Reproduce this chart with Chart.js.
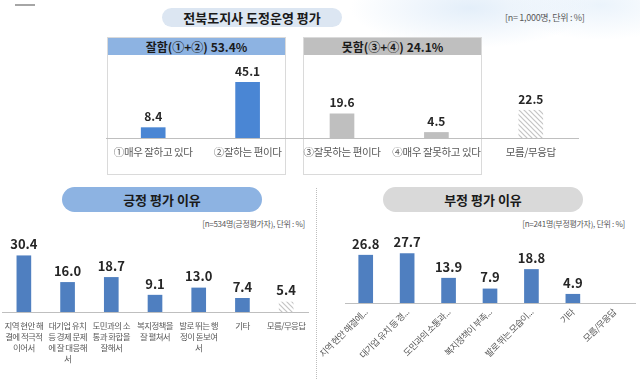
<!DOCTYPE html>
<html><head><meta charset="utf-8">
<script src="https://cdn.jsdelivr.net/npm/chart.js@4.4.1/dist/chart.umd.min.js"></script>
<style>
html,body{margin:0;padding:0;}
body{width:640px;height:379px;position:relative;overflow:hidden;background:#fff;font-family:"Noto Sans CJK KR","Noto Sans",sans-serif;
background-image:radial-gradient(ellipse 120px 40px at 470px 8px,rgba(205,225,245,0.55),rgba(255,255,255,0) 100%),radial-gradient(ellipse 90px 35px at 600px 5px,rgba(215,232,248,0.5),rgba(255,255,255,0) 100%);}
.abs{position:absolute;}
.pill{display:flex;align-items:center;justify-content:center;font-weight:bold;color:#1a1a1a;}
.note{font-size:8px;color:#595959;white-space:nowrap;letter-spacing:-0.3px;}
canvas{position:absolute;}
</style></head><body>
<div class="abs" style="left:15px;top:4px;width:20px;height:2px;background:#a6a6a6"></div>
<div class="abs pill" style="left:162px;top:8px;width:180px;height:19px;border-radius:10px;background:#dce6f2;font-size:13px;">전북도지사 도정운영 평가</div>
<div class="abs note" style="left:505px;top:11px;font-size:9px;">[n= 1,000명, 단위 : %]</div>

<div class="abs" style="left:107px;top:37px;width:177px;height:136px;border:1px solid #dadada;"></div>
<div class="abs pill" style="left:108px;top:38px;width:177px;height:17px;background:#8db3e2;font-size:12px;">잘함(①+②) 53.4%</div>
<div class="abs" style="left:303px;top:37px;width:177px;height:136px;border:1px solid #dadada;"></div>
<div class="abs pill" style="left:304px;top:38px;width:177px;height:17px;background:#bfbfbf;font-size:12px;">못함(③+④) 24.1%</div>

<div class="abs pill" style="left:62px;top:187px;width:200px;height:25px;border-radius:13px;background:#8db3e2;font-size:13px;">긍정 평가 이유</div>
<div class="abs note" style="right:335px;top:218px;">[n=534명(긍정평가자), 단위 : %]</div>
<div class="abs pill" style="left:383px;top:187px;width:200px;height:25px;border-radius:13px;background:#d9d9d9;font-size:13px;">부정 평가 이유</div>
<div class="abs note" style="right:15px;top:218px;">[n=241명(부정평가자), 단위 : %]</div>
<div class="abs" style="left:316px;top:188px;height:191px;border-left:1px dotted #bdbdbd;"></div>

<canvas id="c1" width="490" height="120" style="left:100px;top:56px"></canvas>
<canvas id="c2" width="316" height="154" style="left:0px;top:225px"></canvas>
<canvas id="c3" width="320" height="154" style="left:320px;top:225px"></canvas>
<script>
// ---- data ----
const topCategories = ['①매우 잘하고 있다','②잘하는 편이다','③잘못하는 편이다','④매우 잘못하고 있다','모름/무응답'];
const topValues = [8.4, 45.1, 19.6, 4.5, 22.5];

const posCategories = [
  ['지역 현안 해','결에 적극적','이어서'],
  ['대기업 유치','등 경제 문제','에 잘 대응해','서'],
  ['도민과의 소','통과 화합을','잘해서'],
  ['복지정책을','잘 펼쳐서'],
  ['발로 뛰는 행','정이 돋보여','서'],
  ['기타'],
  ['모름/무응답']
];
const posValues = [30.4, 16.0, 18.7, 9.1, 13.0, 7.4, 5.4];

const negCategories = ['지역 현안 해결에...','대기업 유치 등 경...','도민과의 소통과...','복지정책이 부족...','발로 뛰는 모습이...','기타','모름/무응답'];
const negValues = [26.8, 27.7, 13.9, 7.9, 18.8, 4.9, null];

// ---- styles ----
function hatch(){
  const c=document.createElement('canvas'); c.width=5; c.height=5;
  const g=c.getContext('2d');
  g.fillStyle='#ffffff'; g.fillRect(0,0,5,5);
  g.strokeStyle='#c4c4c4'; g.lineWidth=1.2;
  g.beginPath(); g.moveTo(0,0); g.lineTo(5,5); g.moveTo(-1,4); g.lineTo(1,6); g.moveTo(4,-1); g.lineTo(6,1); g.stroke();
  return g.createPattern(c,'repeat');
}
const HATCH = hatch();
const BLUE_TOP = '#4a86d4', BLUE = '#4f7fc0', GRAY = '#bfbfbf';

const valueLabels = {
  id:'valueLabels',
  afterDatasetsDraw(chart, args, opts){
    const ctx=chart.ctx, meta=chart.getDatasetMeta(0), data=chart.data.datasets[0].data;
    ctx.save(); ctx.letterSpacing='0px'; ctx.font=opts.font; ctx.fillStyle=opts.color; ctx.textAlign='center'; ctx.textBaseline='bottom';
    meta.data.forEach((bar,i)=>{ const v=data[i]; if(v==null) return; ctx.fillText(v.toFixed(1), bar.x, bar.y-opts.offset); });
    ctx.restore();
  }
};
const tight = {
  id:'tight',
  beforeLayout(chart, args, opts){ chart.ctx.letterSpacing = opts.ls || '0px'; },
  beforeDraw(chart, args, opts){ chart.ctx.letterSpacing = opts.ls || '0px'; }
};
Chart.register(valueLabels, tight);
const FONT = '"Noto Sans CJK KR","Noto Sans",sans-serif';

function make(id, labels, values, colors, o){
  return new Chart(document.getElementById(id), {
    type:'bar',
    data:{labels, datasets:[{data:values, backgroundColor:colors, barThickness:o.bar, borderWidth:0}]},
    options:{
      responsive:false, animation:false, devicePixelRatio:1,
      layout:{padding:{left:o.pl, right:o.pr, top:o.pt, bottom:0}},
      plugins:{legend:{display:false}, tooltip:{enabled:false},
        tight:{ls:o.ls},
        valueLabels:{font:'bold '+o.vf+'px '+FONT, color:'#262626', offset:o.vo}},
      scales:{
        y:{display:false, min:0, max:o.max},
        x:{
          grid:{display:false, drawTicks:false},
          border:{display:true, color:'#bfbfbf', width:1},
          ticks:{color:'#595959', font:{family:FONT, size:o.tf, lineHeight:o.lh}, padding:o.tp,
                 autoSkip:false, minRotation:o.rot, maxRotation:o.rot},
          afterFit(s){ s.height=o.xh; s.paddingLeft=0; s.paddingRight=0; }
        }
      }
    }
  });
}

make('c1', topCategories, topValues, [BLUE_TOP,BLUE_TOP,GRAY,GRAY,HATCH],
  {bar:24, pl:6, pr:12, pt:8, max:60, xh:38, tf:10.5, lh:1.2, tp:8, rot:0, vf:12, vo:5, ls:'-0.4px'});
make('c2', posCategories, posValues, [BLUE,BLUE,BLUE,BLUE,BLUE,BLUE,HATCH],
  {bar:14, pl:2, pr:8, pt:13, max:40, xh:67, tf:8.5, lh:1.3, tp:8, rot:0, vf:13, vo:5, ls:'-0.6px'});
make('c3', negCategories, negValues, [BLUE,BLUE,BLUE,BLUE,BLUE,BLUE,HATCH],
  {bar:14, pl:25, pr:5, pt:12, max:37, xh:76, tf:9, lh:1.1, tp:4, rot:45, vf:13, vo:5, ls:'-0.5px'});
</script>
</body></html>
